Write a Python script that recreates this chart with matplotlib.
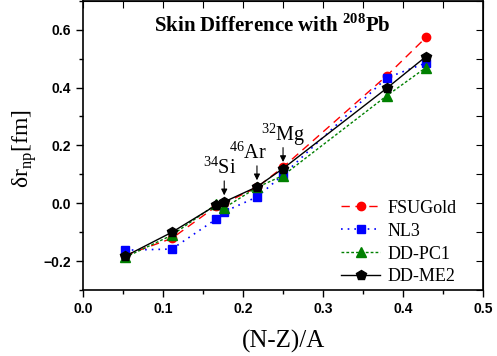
import matplotlib
matplotlib.use("Agg")
import matplotlib.pyplot as plt
from matplotlib.ticker import MultipleLocator

# --------------------
# Data
# --------------------
asym = [0.0526, 0.1111, 0.1667, 0.1765, 0.2174, 0.25, 0.3793, 0.4286]

fsugold = [-0.180, -0.121, -0.010, 0.000, 0.055, 0.125, 0.440, 0.573]
nl3 = [-0.162, -0.158, -0.054, -0.029, 0.022, 0.098, 0.433, 0.485]
ddpc1 = [-0.187, -0.110, -0.003, -0.016, 0.055, 0.096, 0.371, 0.469]
ddme2 = [-0.183, -0.100, -0.006, 0.005, 0.057, 0.120, 0.397, 0.507]

nuclei = [r"$^{34}$Si", r"$^{46}$Ar", r"$^{32}$Mg"]
nuclei_x = [0.1765, 0.2174, 0.25]
nuclei_y = [0.005, 0.057, 0.120]
label_dx = [-0.006, -0.011, 0.0]

serif = "Liberation Serif"
sans = "Liberation Sans"
plt.rcParams["mathtext.fontset"] = "custom"
plt.rcParams["mathtext.rm"] = serif
plt.rcParams["mathtext.bf"] = serif + ":bold"

# --------------------
# Plot
# --------------------
fig = plt.figure(figsize=(4.97, 3.56), dpi=100)
ax = fig.add_axes([0.167, 0.185, 0.805, 0.813])

ms = 6
ax.plot(asym, fsugold, color="red", linestyle=(0, (6, 4)), lw=1,
        marker="o", ms=ms, label="FSUGold")
ax.plot(asym, nl3, color="blue", linestyle=(0, (1, 3)), lw=1.2,
        marker="s", ms=ms, label="NL3")
ax.plot(asym, ddpc1, color="green", linestyle=(0, (2, 1.5)), lw=1,
        marker="^", ms=ms + 0.5, label="DD-PC1")
ax.plot(asym, ddme2, color="black", linestyle="-", lw=1,
        marker="p", ms=ms + 1, label="DD-ME2")

# arrows for the marked nuclei
for lab, x, y, dx in zip(nuclei, nuclei_x, nuclei_y, label_dx):
    ax.annotate("", xy=(x, y + 0.013), xytext=(x, y + 0.082),
                arrowprops=dict(arrowstyle="-|>", color="black", lw=0.8,
                                mutation_scale=9))
    ax.text(x + dx, y + 0.097, lab, ha="center", va="baseline",
            fontsize=14.5, family=serif)

ax.text(0.236, 0.614, r"Skin Difference with $^{\mathbf{208}}$Pb",
        ha="center", va="center", fontsize=15, fontweight="bold",
        family=serif)

# --------------------
# Axes formatting
# --------------------
ax.set_xlim(0, 0.5)
ax.set_ylim(-0.3, 0.7)
ax.xaxis.set_major_locator(MultipleLocator(0.1))
ax.xaxis.set_minor_locator(MultipleLocator(0.05))
ax.yaxis.set_major_locator(MultipleLocator(0.2))
ax.yaxis.set_minor_locator(MultipleLocator(0.1))

ax.tick_params(which="both", direction="out", width=1)
ax.tick_params(which="major", length=5)
ax.tick_params(which="minor", length=3)
for lbl in ax.get_xticklabels() + ax.get_yticklabels():
    lbl.set_family(sans)
    lbl.set_fontweight("bold")
    lbl.set_fontsize(10)

# top and right ticks point inward, no labels
tx = ax.secondary_xaxis("top")
tx.set_xticks([0.05 * i for i in range(11)])
tx.tick_params(direction="in", length=5, labeltop=False)
ry = ax.secondary_yaxis("right")
ry.set_yticks([-0.3 + 0.1 * i for i in range(11)])
ry.tick_params(direction="in", length=5, labelright=False)

for sp in ax.spines.values():
    sp.set_linewidth(1.2)

ax.set_xlabel("(N-Z)/A", fontsize=18, family=serif, labelpad=10)
ax.set_ylabel(r"δr$_{\rm np}$[fm]", fontsize=17, family=serif)
ax.yaxis.set_label_coords(-0.11, 0.49)

ax.legend(loc="lower right", bbox_to_anchor=(0.975, -0.04), frameon=False,
          prop={"family": serif, "size": 13}, handlelength=2.2,
          labelspacing=0.33, handletextpad=0.4)

plt.savefig("out.png", dpi=100)
